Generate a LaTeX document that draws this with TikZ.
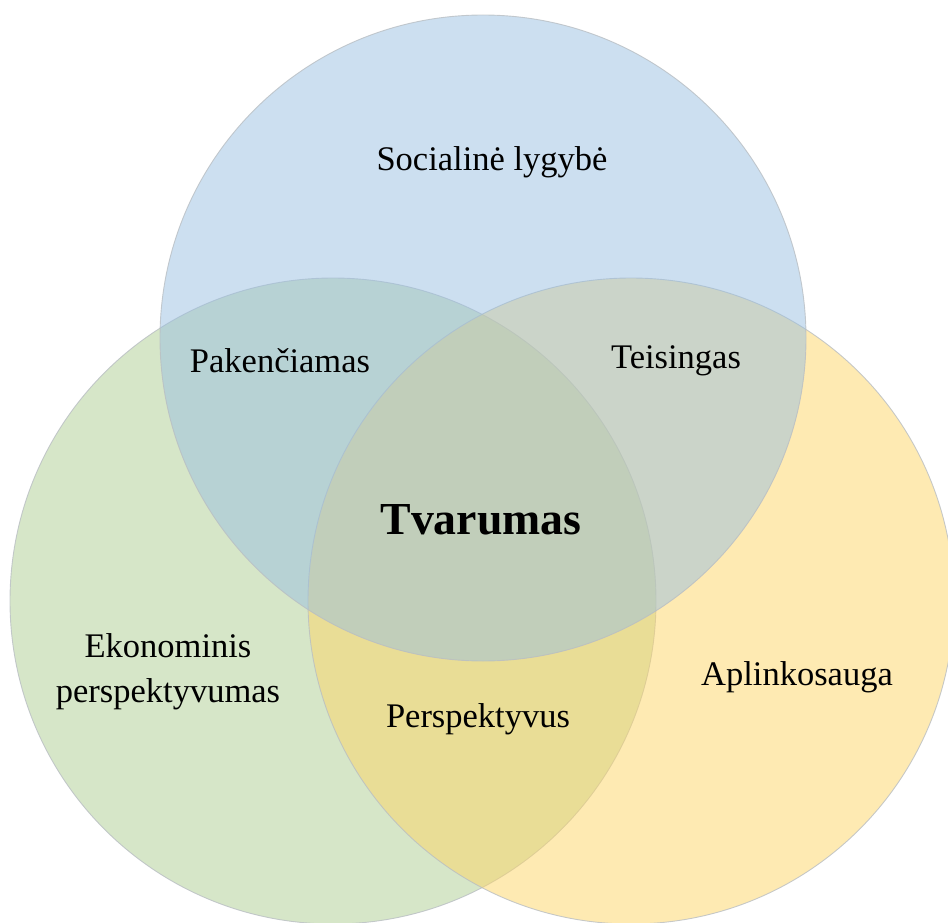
\documentclass[tikz,border=0pt]{standalone}
\usepackage{fontspec}
\setmainfont{Liberation Serif}
\definecolor{econ}{RGB}{173,205,145}
\definecolor{envi}{RGB}{253,213,101}
\definecolor{soci}{RGB}{153,191,225}
\definecolor{rim}{RGB}{185,190,195}
\tikzset{
  venn/.style={fill opacity=0.5, draw=rim, draw opacity=0.8, line width=0.9pt},
  lbl/.style={anchor=base, align=center, font=\fontsize{34.5}{45}\selectfont, inner sep=0pt},
  core/.style={anchor=base, inner sep=0pt, font=\fontsize{45.8}{50}\selectfont\bfseries}
}
\begin{document}
\begin{tikzpicture}[x=1pt, y=-1pt]
  \useasboundingbox (0,0) rectangle (948,923);
  \clip (0,0) rectangle (948,923);
  % circle centres
  \coordinate (cE) at (333,601);
  \coordinate (cA) at (631,601);
  \coordinate (cS) at (483,338);
  % the three overlapping sets
  \path[venn, fill=econ] (cE) circle[radius=323];
  \path[venn, fill=envi] (cA) circle[radius=323];
  \path[venn, fill=soci] (cS) circle[radius=323];
  % labels (base = baseline of the last line)
  \node[lbl] (soc) at (492,171) {Socialinė lygybė};
  \node[lbl] (pak) at (280,372) {Pakenčiamas};
  \node[lbl] (tei) at (676,368) {Teisingas};
  \node[core] (tva) at (481,534) {Tvarumas};
  \node[lbl] (eko) at (168,702) {Ekonominis\\perspektyvumas};
  \node[lbl] (per) at (478,727) {Perspektyvus};
  \node[lbl] (apl) at (797,685) {Aplinkosauga};
\end{tikzpicture}
\end{document}
